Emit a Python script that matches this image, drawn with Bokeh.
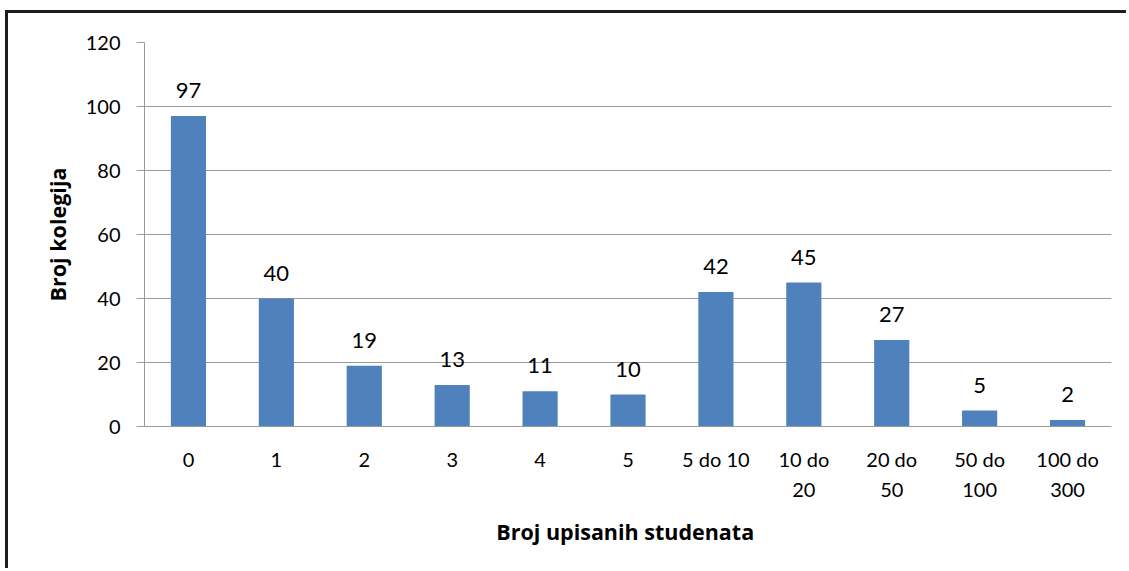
from bokeh.plotting import figure
from bokeh.models import ColumnDataSource, LabelSet, Range1d, LinearAxis, FixedTicker
from bokeh.core.properties import value
from bokeh.embed import file_html
from bokeh.resources import INLINE

categories = ["0", "1", "2", "3", "4", "5", "5 do 10", "10 do 20", "20 do 50", "50 do 100", "100 do 300"]
tick_line1 = ["0", "1", "2", "3", "4", "5", "5 do 10", "10 do", "20 do", "50 do", "100 do"]
tick_line2 = ["", "", "", "", "", "", "", "20", "50", "100", "300"]
counts = [97, 40, 19, 13, 11, 10, 42, 45, 27, 5, 2]
y_ticks = [0, 20, 40, 60, 80, 100, 120]

FONT = "Lato"
TFONT = "Open Sans"

idx = list(range(len(categories)))
src = ColumnDataSource(dict(x=idx, cat=categories, val=counts, lbl=[str(v) for v in counts]))

p = figure(x_range=Range1d(-0.5, len(categories) - 0.5), y_range=(0, 120),
           width=1121, height=558, output_backend="svg", toolbar_location=None,
           min_border_left=136, min_border_right=18, min_border_top=29, min_border_bottom=145)
p.styles = {"margin-left": "5px", "margin-top": "10px",
            "border-top": "3px solid #1e1e1e", "border-left": "3px solid #1e1e1e"}

p.vbar(x="x", top="val", width=0.4, source=src, color="#4F81BD", line_color=None)

labels = LabelSet(x="x", y="val", text="lbl", source=src, text_align="center",
                  text_baseline="alphabetic", y_offset=18, text_font=value(FONT),
                  text_font_size="22px", text_color="#000000")
p.add_layout(labels)

p.outline_line_color = None
p.background_fill_color = "white"
p.border_fill_color = "white"

p.xgrid.grid_line_color = None
p.ygrid.grid_line_color = "#9a9a9a"
p.ygrid.grid_line_width = 1

p.yaxis.ticker = y_ticks
p.yaxis.axis_line_color = "#9a9a9a"
p.yaxis.major_tick_line_color = "#9a9a9a"
p.yaxis.major_tick_out = 8
p.yaxis.major_tick_in = 0
p.yaxis.minor_tick_line_color = None
p.yaxis.major_label_standoff = 16
p.yaxis.major_label_text_font = FONT
p.yaxis.major_label_text_font_size = "20px"
p.yaxis.major_label_text_color = "#000000"
p.yaxis.axis_label = "Broj kolegija"
p.yaxis.axis_label_text_font = TFONT
p.yaxis.axis_label_text_font_style = "bold"
p.yaxis.axis_label_text_font_size = "21.5px"
p.yaxis.axis_label_text_color = "#000000"
p.yaxis.axis_label_standoff = 11

xticker = FixedTicker(ticks=idx)

xa = p.xaxis[0]
xa.ticker = xticker
xa.axis_line_color = "#9a9a9a"
xa.major_tick_line_color = None
xa.major_tick_out = 0
xa.major_tick_in = 0
xa.minor_tick_line_color = None
xa.major_label_overrides = dict(zip(idx, tick_line1))
xa.major_label_standoff = 20
xa.major_label_text_font = FONT
xa.major_label_text_font_size = "20px"
xa.major_label_text_color = "#000000"

xa2 = LinearAxis(ticker=xticker, major_label_overrides=dict(zip(idx, tick_line2)))
xa2.axis_line_color = None
xa2.major_tick_line_color = None
xa2.major_tick_out = 0
xa2.major_tick_in = 0
xa2.minor_tick_line_color = None
xa2.major_label_standoff = 9
xa2.major_label_text_font = FONT
xa2.major_label_text_font_size = "20px"
xa2.major_label_text_color = "#000000"
xa2.axis_label = "Broj upisanih  studenata"
xa2.axis_label_text_font = TFONT
xa2.axis_label_text_font_style = "bold"
xa2.axis_label_text_font_size = "21.5px"
xa2.axis_label_text_color = "#000000"
xa2.axis_label_standoff = 17
p.add_layout(xa2, "below")

open("out.html", "w").write(file_html(p, INLINE))
